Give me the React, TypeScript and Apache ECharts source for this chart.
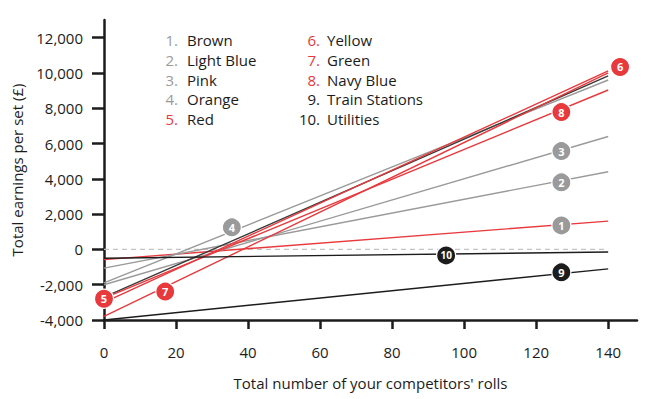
import React, { useEffect, useRef } from "react";
import * as echarts from "echarts";

const SET_NAMES = ["Brown", "Light Blue", "Pink", "Orange", "Red", "Yellow", "Green", "Navy Blue", "Train Stations", "Utilities"];
const ROLLS = [0, 140];
const START_EARNINGS = [-580, -1060, -2000, -1900, -2700, -3000, -3800, -2760, -4000, -500];
const END_EARNINGS = [1600, 4400, 6400, 9600, 9830, 10114, 10000, 9034, -1100, -150];
const BADGE_ROLLS = [127, 127, 127, 35.5, 0, 143.3, 17, 127, 127, 95];
const BADGE_EARNINGS = [1360, 3800, 5570, 1250, -2800, 10340, -2390, 7780, -1300, -340];
const X_TICKS = [0, 20, 40, 60, 80, 100, 120, 140];
const Y_TICKS = [-4000, -2000, 0, 2000, 4000, 6000, 8000, 10000, 12000];

const RED = "#e8393d";
const GRAY = "#9a9a9a";
const BLACK = "#1c1c1c";
const DARK = "#3a3a3a";
const LINE_COLORS = [RED, GRAY, GRAY, GRAY, DARK, RED, RED, RED, BLACK, BLACK];
const BADGE_COLORS = [GRAY, GRAY, GRAY, GRAY, RED, RED, RED, RED, BLACK, BLACK];

const FONT = "Open Sans";

export default function App() {
  const ref = useRef<HTMLDivElement>(null);
  useEffect(() => {
    if (!ref.current) return;
    const chart = echarts.init(ref.current, null, { renderer: "svg" });

    const lineSeries = SET_NAMES.map((name, i) => ({
      type: "line",
      name,
      data: ROLLS.map((r, k) => [r, k === 0 ? START_EARNINGS[i] : END_EARNINGS[i]]),
      symbol: "none",
      lineStyle: { color: LINE_COLORS[i], width: 1.4 },
      z: 3,
    }));

    const legendTexts: any[] = [];
    SET_NAMES.forEach((name, i) => {
      const col = i < 5 ? 0 : 1;
      const row = i % 5;
      const y = 40 + row * 19.8;
      legendTexts.push({
        type: "text",
        x: col === 0 ? 178 : 320,
        y,
        style: {
          text: `${i + 1}.`,
          fill: BADGE_COLORS[i],
          fontFamily: FONT,
          fontSize: 15,
          lineHeight: 17,
          align: "right",
          verticalAlign: "middle",
        },
      });
      legendTexts.push({
        type: "text",
        x: col === 0 ? 187 : 327,
        y,
        style: {
          text: name,
          fill: BLACK,
          fontFamily: FONT,
          fontSize: 15,
          lineHeight: 17,
          align: "left",
          verticalAlign: "middle",
        },
      });
    });

    chart.setOption({
      animation: false,
      grid: { left: 104, right: 11, top: 20, bottom: 79, containLabel: false },
      xAxis: {
        type: "value",
        min: 0,
        max: 148,
        name: "Total number of your competitors' rolls",
        nameLocation: "middle",
        nameGap: 55,
        nameTextStyle: { fontFamily: FONT, fontSize: 15, color: BLACK },
        axisLine: { onZero: false, lineStyle: { color: BLACK, width: 2.5 } },
        axisTick: { show: true, length: 9, lineStyle: { color: BLACK, width: 2.5 }, customValues: X_TICKS },
        axisLabel: { fontFamily: FONT, fontSize: 15, color: BLACK, margin: 24, customValues: X_TICKS },
        splitLine: { show: false },
      },
      yAxis: {
        type: "value",
        min: -4000,
        max: 13000,
        name: "Total earnings per set (£)",
        nameLocation: "middle",
        nameGap: 80,
        nameRotate: 90,
        nameTextStyle: { fontFamily: FONT, fontSize: 15, color: BLACK },
        axisLine: { show: true, onZero: false, lineStyle: { color: BLACK, width: 2.5 } },
        axisTick: { show: true, length: 12, lineStyle: { color: BLACK, width: 2.5 }, customValues: Y_TICKS },
        axisLabel: {
          fontFamily: FONT,
          fontSize: 15,
          color: BLACK,
          margin: 21,
          customValues: Y_TICKS,
          formatter: (v: number) => v.toLocaleString("en-US"),
        },
        splitLine: { show: false },
      },
      series: [
        {
          type: "line",
          name: "zero",
          data: ROLLS.map((r) => [r, 0]),
          symbol: "none",
          lineStyle: { color: "#c4c4c4", width: 1.2, type: [5, 4] },
          z: 2,
        },
        ...lineSeries,
        {
          type: "scatter",
          name: "badges",
          data: BADGE_ROLLS.map((r, i) => ({
            value: [r, BADGE_EARNINGS[i]],
            itemStyle: { color: BADGE_COLORS[i], borderColor: "#ffffff", borderWidth: 1.2, opacity: 1 },
            label: {
              show: true,
              position: "inside",
              formatter: `${i + 1}`,
              color: "#ffffff",
              fontFamily: FONT,
              fontWeight: "bold",
              fontSize: i === 9 ? 10 : 11,
            },
          })),
          symbol: "circle",
          symbolSize: 19,
          z: 5,
        },
      ],
      graphic: legendTexts,
    });

    return () => chart.dispose();
  }, []);
  return <div ref={ref} style={{ position: "absolute", left: 0, top: 0, width: 648, height: 399 }} />;
}
